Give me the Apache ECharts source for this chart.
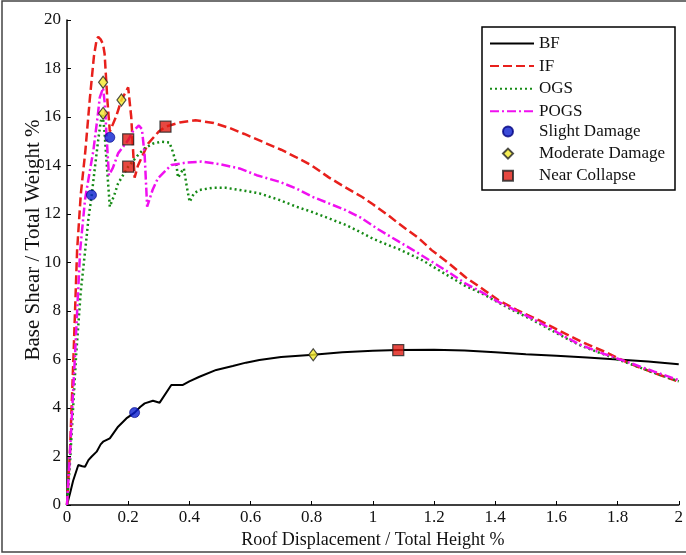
<!DOCTYPE html>
<html>
<head>
<meta charset="utf-8">
<script src="https://cdn.jsdelivr.net/npm/echarts@6/dist/echarts.min.js"></script>
<style>
  html, body { margin: 0; padding: 0; background: #fff; }
  #chart { width: 686px; height: 555px; }
</style>
</head>
<body>
<div id="chart"></div>
<script>
// pushover curves, [roof drift %, base shear / weight %]
const bfData = [
  [0, 0], [0.01, 0.48], [0.02, 1.0], [0.037, 1.65], [0.05, 1.6], [0.059, 1.58], [0.07, 1.85],
  [0.08, 1.99], [0.097, 2.2], [0.11, 2.5], [0.118, 2.61], [0.14, 2.75], [0.167, 3.23],
  [0.194, 3.57], [0.221, 3.81], [0.24, 4.05], [0.254, 4.19], [0.281, 4.3], [0.303, 4.22],
  [0.341, 4.95], [0.379, 4.95], [0.4, 5.1], [0.433, 5.29], [0.488, 5.57], [0.542, 5.73],
  [0.585, 5.87], [0.629, 5.98], [0.7, 6.1], [0.805, 6.2], [0.9, 6.3], [1.0, 6.36],
  [1.083, 6.39], [1.2, 6.4], [1.3, 6.37], [1.4, 6.3], [1.5, 6.22], [1.6, 6.15],
  [1.7, 6.08], [1.8, 6.0], [1.9, 5.92], [2.0, 5.8]
]
const ifData = [
  [0, 0], [0.01, 2.3], [0.022, 6.4], [0.033, 10.5], [0.045, 12.8], [0.06, 14.6], [0.075, 16.8],
  [0.088, 18.5], [0.097, 19.2], [0.102, 19.3], [0.11, 19.2], [0.118, 19.0], [0.123, 18.6],
  [0.132, 16.7], [0.14, 15.4], [0.16, 16.0], [0.178, 16.7], [0.2, 17.22], [0.21, 16.0],
  [0.221, 13.5], [0.232, 14.0], [0.265, 14.9], [0.3, 15.4], [0.322, 15.6], [0.368, 15.77],
  [0.42, 15.87], [0.48, 15.75], [0.531, 15.55], [0.58, 15.3], [0.639, 14.98], [0.7, 14.65],
  [0.748, 14.35], [0.8, 14.0], [0.857, 13.5], [0.91, 13.1], [0.965, 12.7], [1.0, 12.4],
  [1.05, 11.95], [1.085, 11.6], [1.15, 11.0], [1.193, 10.5], [1.25, 9.95], [1.302, 9.4],
  [1.36, 8.9], [1.41, 8.45], [1.47, 8.05], [1.541, 7.63], [1.6, 7.25], [1.649, 6.94],
  [1.7, 6.63], [1.758, 6.32], [1.81, 6.0], [1.866, 5.7], [1.93, 5.4], [2.0, 5.08]
]
const ogsData = [
  [0, 0], [0.01, 1.8], [0.03, 6.2], [0.045, 8.8], [0.062, 10.8], [0.07, 11.8], [0.08, 12.7],
  [0.092, 14.0], [0.102, 15.05], [0.11, 15.8], [0.116, 16.15], [0.122, 15.5], [0.129, 14.2],
  [0.14, 12.3], [0.155, 12.8], [0.167, 13.26], [0.2, 13.95], [0.23, 14.4], [0.254, 14.71],
  [0.28, 14.9], [0.308, 14.98], [0.335, 14.95], [0.345, 14.6], [0.357, 14.09], [0.363, 13.5],
  [0.372, 13.7], [0.382, 13.88], [0.392, 13.1], [0.401, 12.5], [0.415, 12.85], [0.433, 12.99],
  [0.477, 13.08], [0.52, 13.08], [0.585, 12.95], [0.629, 12.85], [0.694, 12.58], [0.75, 12.3],
  [0.802, 12.08], [0.86, 11.8], [0.911, 11.55], [0.96, 11.25], [1.0, 10.98], [1.05, 10.72],
  [1.085, 10.55], [1.161, 10.1], [1.22, 9.65], [1.3, 9.05], [1.36, 8.7], [1.41, 8.35],
  [1.47, 7.95], [1.519, 7.65], [1.57, 7.3], [1.628, 6.9], [1.68, 6.57], [1.736, 6.3],
  [1.79, 6.05], [1.845, 5.8], [1.92, 5.45], [2.0, 5.1]
]
const pogsData = [
  [0, 0], [0.01, 2.2], [0.027, 6.4], [0.043, 10.5], [0.059, 12.6], [0.075, 13.8], [0.086, 14.6],
  [0.1, 16.0], [0.107, 16.8], [0.118, 17.2], [0.124, 16.5], [0.129, 15.3], [0.137, 13.6],
  [0.15, 13.9], [0.167, 14.5], [0.2, 15.05], [0.215, 15.4], [0.235, 15.65], [0.245, 15.5],
  [0.254, 14.4], [0.262, 12.3], [0.28, 13.0], [0.297, 13.47], [0.341, 14.02], [0.39, 14.12],
  [0.44, 14.16], [0.5, 14.05], [0.564, 13.88], [0.62, 13.6], [0.694, 13.33], [0.75, 13.05],
  [0.802, 12.71], [0.86, 12.42], [0.911, 12.16], [0.96, 11.85], [1.02, 11.35], [1.085, 10.86],
  [1.14, 10.45], [1.193, 10.03], [1.25, 9.58], [1.302, 9.14], [1.36, 8.75], [1.41, 8.38],
  [1.47, 8.0], [1.519, 7.7], [1.57, 7.35], [1.628, 6.94], [1.68, 6.6], [1.736, 6.32],
  [1.79, 6.08], [1.845, 5.84], [1.92, 5.5], [2.0, 5.15]
]

// performance points
const slightDamage = [[0.08, 12.78], [0.14, 15.16], [0.221, 3.81]]
const moderateDamage = [[0.118, 17.43], [0.118, 16.15], [0.178, 16.7], [0.805, 6.2]]
const nearCollapse = [[0.2, 15.08], [0.2, 13.95], [0.322, 15.6], [1.083, 6.39]]

const serif = 'Liberation Serif'

const chart = echarts.init(document.getElementById('chart'))

const lineSeries = (name, data, color, type, width) => ({
  name: name,
  type: 'line',
  data: data,
  symbol: 'none',
  lineStyle: { color: color, width: width, type: type },
  itemStyle: { color: color },
  z: 2
})

const option = {
  animation: false,
  backgroundColor: '#fff',
  grid: { left: 67, right: 3, top: 20, bottom: 50 },
  legend: [
    {
      data: ['BF', 'IF', 'OGS', 'POGS'],
      orient: 'vertical',
      left: 484,
      top: 30,
      itemWidth: 44,
      itemHeight: 14,
      itemGap: 5.6,
      itemStyle: { opacity: 0 },
      textStyle: { fontFamily: serif, fontSize: 17, lineHeight: 14, color: '#111' }
    },
    {
      data: ['Slight Damage', 'Moderate Damage', 'Near Collapse'],
      orient: 'vertical',
      left: 497,
      top: 118,
      itemWidth: 10,
      itemHeight: 10,
      itemGap: 5.1,
      textStyle: { fontFamily: serif, fontSize: 17, lineHeight: 14, color: '#111', padding: [0, 0, 0, 21] }
    }
  ],
  xAxis: {
    type: 'value',
    min: 0,
    max: 2,
    interval: 0.2,
    name: 'Roof Displacement / Total Height %',
    nameLocation: 'middle',
    nameGap: 22,
    nameTextStyle: { fontFamily: serif, fontSize: 18, color: '#111' },
    axisLine: { lineStyle: { color: '#000', width: 1.5 } },
    axisTick: { inside: true, length: 4, lineStyle: { color: '#000' } },
    axisLabel: { fontFamily: serif, fontSize: 17, color: '#111', margin: 4 },
    splitLine: { show: false }
  },
  yAxis: {
    type: 'value',
    min: 0,
    max: 20,
    interval: 2,
    axisLine: { show: true, lineStyle: { color: '#000', width: 1.5 } },
    axisTick: { show: true, inside: true, length: 4, lineStyle: { color: '#000' } },
    axisLabel: { fontFamily: serif, fontSize: 17, color: '#111', margin: 6 },
    splitLine: { show: false }
  },
  graphic: [
    {
      type: 'rect',
      shape: { x: 2, y: 1, width: 700, height: 551 },
      style: { fill: 'none', stroke: '#444', lineWidth: 1.5 },
      silent: true
    },
    {
      type: 'rect',
      shape: { x: 482, y: 27, width: 193, height: 163 },
      style: { fill: 'none', stroke: '#000', lineWidth: 1.5 },
      silent: true
    },
    {
      type: 'text',
      x: 33,
      y: 240,
      rotation: Math.PI / 2,
      style: {
        text: 'Base Shear / Total Weight %',
        font: '21px "Liberation Serif"',
        fill: '#111',
        textAlign: 'center',
        textVerticalAlign: 'middle'
      },
      silent: true
    }
  ],
  series: [
    lineSeries('BF', bfData, '#000000', 'solid', 2),
    lineSeries('IF', ifData, '#e8201c', [9, 4], 2.5),
    lineSeries('OGS', ogsData, '#168a16', [2, 3], 2.5),
    lineSeries('POGS', pogsData, '#f010f0', [9, 3, 2, 3], 2.5),
    {
      name: 'Slight Damage',
      type: 'scatter',
      data: slightDamage,
      symbol: 'circle',
      symbolSize: 10,
      itemStyle: { color: '#0a1ed0', borderColor: '#000080', borderWidth: 0.8 },
      z: 5
    },
    {
      name: 'Moderate Damage',
      type: 'scatter',
      data: moderateDamage,
      symbol: 'diamond',
      symbolSize: [9, 12],
      itemStyle: { color: '#f2e82a', borderColor: '#222', borderWidth: 1.2 },
      z: 5
    },
    {
      name: 'Near Collapse',
      type: 'scatter',
      data: nearCollapse,
      symbol: 'rect',
      symbolSize: 11,
      itemStyle: { color: '#e01a12', borderColor: '#222', borderWidth: 1.2 },
      z: 5
    }
  ]
}

chart.setOption(option)
</script>
</body>
</html>
